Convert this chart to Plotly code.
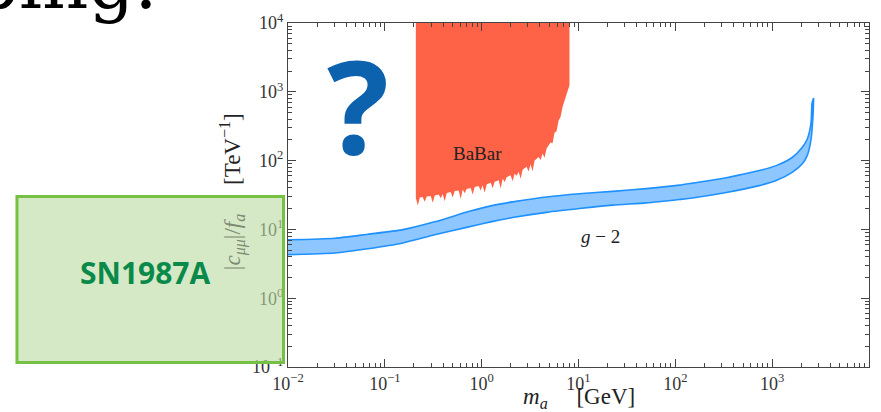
import plotly.graph_objects as go

# --- g-2 preferred band: upper and lower edges of |c_mumu|/f_a [TeV^-1] vs m_a [GeV]
gm2_upper_mass = [0.01, 0.0306, 0.0668, 0.150, 0.327, 0.718, 1.07, 1.53, 2.09, 4.68, 10.2,
                  22.4, 50.2, 110, 150, 336, 735, 1100, 1610, 2040, 2300, 2520, 2580, 2680]
gm2_upper = [7.06, 7.45, 8.51, 9.84, 12.9, 18.0, 20.9, 23.3, 25.1, 29.6, 33.0,
             35.7, 39.2, 44.0, 47.0, 56.4, 71.6, 84.5, 111, 155, 204, 354, 686, 810]
gm2_lower_mass = [0.01, 0.0306, 0.0668, 0.150, 0.327, 0.718, 1.07, 1.53, 2.09, 4.68, 10.2,
                  22.4, 50.2, 110, 150, 336, 735, 1100, 1610, 2040, 2300, 2520, 2650, 2680]
gm2_lower = [4.30, 4.54, 5.24, 6.31, 8.34, 10.8, 12.3, 13.7, 14.9, 17.7, 20.1,
             22.5, 24.3, 27.2, 28.6, 34.3, 43.3, 51.4, 67.6, 89.1, 118, 204, 493, 810]

# --- BaBar exclusion: lower boundary (region extends up to the top of the plot)
babar_mass = [0.209, 0.230, 0.246, 0.271, 0.298, 0.328, 0.360, 0.396, 0.436, 0.479, 0.527,
              0.579, 0.637, 0.700, 0.770, 0.847, 0.931, 1.02, 1.13, 1.24, 1.36, 1.50,
              1.65, 1.81, 1.99, 2.19, 2.41, 2.65, 2.91, 3.20, 3.52, 3.87, 4.26, 4.68,
              5.15, 5.66, 6.22, 6.84, 7.52, 7.89, 8.07]
babar_lower = [28.6, 29.1, 29.6, 30.1, 30.6, 31.1, 32.2, 32.7, 33.8, 34.9, 36.1,
               36.7, 37.9, 38.6, 39.9, 41.2, 42.6, 44.0, 45.5, 47.8, 49.4, 51.9,
               54.6, 57.4, 61.3, 64.4, 68.8, 73.5, 81.2, 88.2, 100.7, 113, 127, 150,
               183, 254, 378, 601, 955, 1165, 1244]
# narrow downward fluctuations of the BaBar limit
babar_spike_mass = [0.219, 0.258, 0.3125, 0.378, 0.4155, 0.502, 0.6075, 0.668, 0.808, 0.9765,
                    1.074, 1.298, 1.570, 1.726, 2.087, 2.295, 2.524, 3.051, 3.356, 4.058,
                    4.462, 5.395, 5.934, 6.524]
babar_spike_lower = [22.2, 25.3, 24.5, 28.4, 25.6, 29.1, 27.6, 33.5, 32.2, 36.7,
                     34.4, 39.8, 39.4, 49.0, 49.9, 60.3, 54.7, 69.4, 70.0, 101.7,
                     110, 179, 268, 429]
babar_top = 1e4

# --- axis ticks
x_decades = [-2, -1, 0, 1, 2, 3, 4]
y_decades = [-1, 0, 1, 2, 3, 4]


def power_label(p):
    s = str(p).replace("-", "\u2212")
    return f"10<sup>{s}</sup>"


def minor_vals(decades):
    return [k * 10.0 ** d for d in decades[:-1] for k in range(2, 10)]


AXIS_COLOR = "#444444"
SERIF = "Liberation Serif"

# merge the smooth limit with its fluctuations, ordered in mass
edge = sorted(zip(babar_mass + babar_spike_mass, babar_lower + babar_spike_lower))
edge_m = [p[0] for p in edge]
edge_v = [p[1] for p in edge]

fig = go.Figure()

# BaBar region
fig.add_trace(go.Scatter(
    x=[edge_m[0]] + edge_m + [edge_m[-1]],
    y=[babar_top] + edge_v + [babar_top],
    mode="lines", fill="toself", fillcolor="#ff6347",
    line=dict(width=0, color="#ff6347"), hoverinfo="skip", showlegend=False,
))

# g-2 band
fig.add_trace(go.Scatter(
    x=gm2_upper_mass + gm2_lower_mass[::-1],
    y=gm2_upper + gm2_lower[::-1],
    mode="lines", fill="toself", fillcolor="rgba(30,144,255,0.5)",
    line=dict(width=1.6, color="#1e90ff", shape="spline", smoothing=0.6),
    hoverinfo="skip", showlegend=False,
))

common_axis = dict(
    type="log", showline=True, linecolor=AXIS_COLOR, linewidth=1.2, mirror="ticks",
    ticks="inside", ticklen=8, tickwidth=1.1, tickcolor=AXIS_COLOR,
    tickmode="array", showgrid=False, zeroline=False,
    tickfont=dict(family=SERIF, size=18, color="#333333"),
)

fig.update_xaxes(
    range=[-2, 4],
    tickvals=[10.0 ** p for p in x_decades],
    ticktext=[power_label(p) for p in x_decades],
    minor=dict(ticks="inside", ticklen=4, tickwidth=1, tickcolor=AXIS_COLOR,
               tickmode="array", tickvals=minor_vals(x_decades), showgrid=False),
    **common_axis,
)
fig.update_yaxes(
    range=[-1, 4],
    tickvals=[10.0 ** p for p in y_decades],
    ticktext=[power_label(p) for p in y_decades],
    minor=dict(ticks="inside", ticklen=4, tickwidth=1, tickcolor=AXIS_COLOR,
               tickmode="array", tickvals=minor_vals(y_decades), showgrid=False),
    **common_axis,
)

annotations = [
    # slide title fragment
    dict(text="ping.", x=-0.5464, y=1.115, xref="paper", yref="paper",
         xanchor="left", yanchor="middle", showarrow=False,
         font=dict(family="DejaVu Serif", size=72, color="#000000")),
    # axis titles
    dict(text="<i>m<sub>a</sub></i>\u2003 [GeV]", x=0.5, y=-0.089,
         xref="paper", yref="paper", xanchor="center", yanchor="middle",
         showarrow=False, font=dict(family=SERIF, size=23, color="#222222")),
    dict(text="<span style='color:#7d8a72'>|<i>c<sub>\u03bc\u03bc</sub></i>|/<i>f<sub>a</sub></i></span>"
              "\u2003 [TeV<sup>\u22121</sup>]",
         x=-0.0962, y=0.5086, xref="paper", yref="paper", textangle=-90,
         xanchor="center", yanchor="middle", showarrow=False,
         font=dict(family=SERIF, size=23, color="#222222")),
    # region labels (log axes take log10 positions)
    dict(text="BaBar", x=-0.041, y=2.10, xref="x", yref="y", showarrow=False,
         font=dict(family=SERIF, size=19, color="#222222")),
    dict(text="<i>g</i> \u2212 2", x=1.227, y=0.90, xref="x", yref="y", showarrow=False,
         font=dict(family=SERIF, size=19, color="#222222")),
    dict(text="<b>?</b>", x=0.1203, y=0.767, xref="paper", yref="paper",
         xanchor="center", yanchor="middle", showarrow=False,
         font=dict(family="Open Sans", size=130, color="#0d62ad")),
    dict(text="<b>SN1987A</b>", x=-0.2457, y=0.2759, xref="paper", yref="paper",
         xanchor="center", yanchor="middle", showarrow=False,
         font=dict(family="Open Sans", size=30, color="#0a8a4a")),
]

# SN1987A box, drawn over the axis labels it overlaps
shapes = [
    dict(type="rect", xref="paper", yref="paper", layer="above",
         x0=-0.4665, x1=-0.00773, y0=0.01293, y1=0.4957,
         fillcolor="rgba(187,218,160,0.6)", line=dict(color="#76c043", width=3)),
]

fig.update_layout(
    width=881, height=412,
    margin=dict(l=288, r=11, t=19, b=45, pad=0),
    paper_bgcolor="white", plot_bgcolor="white",
    showlegend=False,
    annotations=annotations,
    shapes=shapes,
)

fig.write_html("out.html")
